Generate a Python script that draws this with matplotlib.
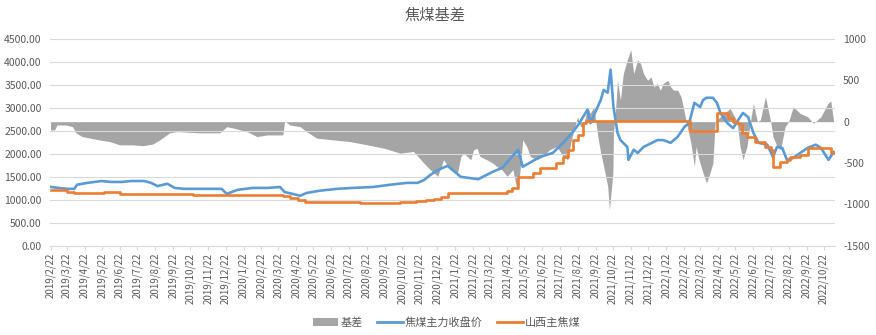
import matplotlib
matplotlib.use("Agg")
import matplotlib.pyplot as plt
import matplotlib.dates as mdates
from matplotlib.patches import Patch
from matplotlib.lines import Line2D
from matplotlib.ticker import FuncFormatter, MultipleLocator
import pandas as pd

plt.rcParams['font.family'] = ['Noto Sans CJK SC', 'DejaVu Sans']

title = "焦煤基差"
series_names = ["基差", "焦煤主力收盘价", "山西主焦煤"]

# 焦煤主力收盘价 (left axis)
futures_dates = ["2019-02-22", "2019-03-07", "2019-03-23", "2019-04-04", "2019-04-09", "2019-04-27",
                 "2019-05-21", "2019-06-07", "2019-06-25", "2019-07-12", "2019-08-03", "2019-08-15",
                 "2019-08-26", "2019-09-12", "2019-09-25", "2019-10-12", "2019-11-03", "2019-11-29",
                 "2019-12-15", "2019-12-24", "2020-01-12", "2020-02-07", "2020-03-03", "2020-03-25",
                 "2020-04-02", "2020-04-16", "2020-04-29", "2020-05-10", "2020-06-02", "2020-07-02",
                 "2020-07-29", "2020-09-02", "2020-10-02", "2020-10-31", "2020-11-18", "2020-11-29",
                 "2020-12-10", "2020-12-23", "2021-01-09", "2021-02-01", "2021-03-03", "2021-03-28",
                 "2021-04-14", "2021-05-11", "2021-05-19", "2021-06-18", "2021-07-10", "2021-07-28",
                 "2021-08-14", "2021-08-23", "2021-09-08", "2021-09-13", "2021-10-01", "2021-10-06",
                 "2021-10-13", "2021-10-18", "2021-10-23", "2021-10-30", "2021-11-04", "2021-11-16",
                 "2021-11-18", "2021-11-27", "2021-12-04", "2021-12-14", "2022-01-07", "2022-01-17",
                 "2022-01-30", "2022-02-11", "2022-02-23", "2022-03-03", "2022-03-12", "2022-03-22",
                 "2022-03-27", "2022-04-02", "2022-04-13", "2022-04-20", "2022-04-26", "2022-05-08",
                 "2022-05-18", "2022-05-27", "2022-06-04", "2022-06-13", "2022-06-22", "2022-07-01",
                 "2022-07-16", "2022-07-26", "2022-08-02", "2022-08-11", "2022-08-19", "2022-08-30",
                 "2022-09-11", "2022-09-24", "2022-10-08", "2022-10-17", "2022-10-30", "2022-11-08"]
futures_vals = [1283, 1260, 1240, 1240, 1330, 1370,
                1410, 1390, 1390, 1410, 1410, 1370,
                1300, 1350, 1260, 1240, 1240, 1240,
                1240, 1130, 1220, 1260, 1260, 1280,
                1170, 1130, 1090, 1150, 1200, 1240,
                1260, 1280, 1330, 1370, 1370, 1430,
                1540, 1650, 1740, 1500, 1450, 1610,
                1700, 2090, 1720, 1935, 2020, 2240,
                2480, 2630, 2960, 2670, 3170, 3390,
                3330, 3830, 3020, 2460, 2300, 2150,
                1870, 2090, 2020, 2150, 2300, 2300,
                2240, 2370, 2590, 2670, 3110, 3020,
                3170, 3220, 3220, 3110, 2890, 2670,
                2560, 2740, 2890, 2800, 2460, 2240,
                2200, 1935, 2150, 2130, 1870, 1910,
                2020, 2130, 2200, 2130, 1870, 2040]

# 山西主焦煤 (left axis, step changes)
spot_dates = ["2019-02-22", "2019-03-23", "2019-04-04", "2019-05-26", "2019-06-22", "2019-10-26",
              "2020-03-30", "2020-04-11", "2020-04-25", "2020-05-07", "2020-08-10", "2020-10-19",
              "2020-11-15", "2020-12-03", "2020-12-17", "2020-12-29", "2021-01-09", "2021-04-14",
              "2021-04-22", "2021-05-01", "2021-05-11", "2021-06-06", "2021-06-18", "2021-07-15",
              "2021-07-28", "2021-08-05", "2021-08-14", "2021-08-22", "2021-08-31", "2021-09-06",
              "2022-03-05", "2022-04-20", "2022-05-10", "2022-05-18", "2022-05-27", "2022-06-02",
              "2022-06-11", "2022-06-25", "2022-07-13", "2022-07-22", "2022-07-26", "2022-08-08",
              "2022-08-19", "2022-08-25", "2022-09-11", "2022-09-24", "2022-11-03", "2022-11-08"]
spot_vals = [1220, 1180, 1160, 1180, 1130, 1100,
             1080, 1040, 990, 960, 940, 950,
             970, 1000, 1030, 1070, 1140, 1160,
             1200, 1250, 1500, 1590, 1700, 1800,
             1940, 2090, 2300, 2410, 2670, 2720,
             2500, 2890, 2780, 2700, 2650, 2460,
             2370, 2260, 2150, 2090, 1720, 1830,
             1870, 1935, 1980, 2130, 2020, 2020]

# 基差 (right axis)
basis_dates = ["2019-02-22", "2019-03-01", "2019-03-05", "2019-03-21", "2019-04-01", "2019-04-07",
               "2019-04-18", "2019-05-17", "2019-06-04", "2019-06-22", "2019-07-14", "2019-08-01",
               "2019-08-18", "2019-08-30", "2019-09-16", "2019-09-29", "2019-11-07", "2019-12-12",
               "2019-12-24", "2020-01-03", "2020-01-28", "2020-02-14", "2020-03-03", "2020-03-30",
               "2020-04-02", "2020-04-11", "2020-04-29", "2020-05-10", "2020-05-28", "2020-06-25",
               "2020-07-24", "2020-08-23", "2020-09-21", "2020-10-19", "2020-11-11", "2020-11-29",
               "2020-12-10", "2020-12-23", "2021-01-02", "2021-01-14", "2021-01-26", "2021-02-01",
               "2021-02-06", "2021-02-18", "2021-02-23", "2021-03-01", "2021-03-06", "2021-03-18",
               "2021-03-28", "2021-04-04", "2021-04-13", "2021-04-22", "2021-05-02", "2021-05-09",
               "2021-05-14", "2021-05-19", "2021-05-26", "2021-06-01", "2021-06-13", "2021-06-23",
               "2021-07-04", "2021-07-17", "2021-07-28", "2021-08-05", "2021-08-10", "2021-08-14",
               "2021-08-22", "2021-08-27", "2021-09-01", "2021-09-08", "2021-09-13", "2021-09-19",
               "2021-09-26", "2021-10-01", "2021-10-06", "2021-10-13", "2021-10-16", "2021-10-22",
               "2021-10-23", "2021-10-27", "2021-10-30", "2021-11-04", "2021-11-09", "2021-11-16",
               "2021-11-22", "2021-11-27", "2021-12-04", "2021-12-09", "2021-12-14", "2021-12-21",
               "2021-12-27", "2022-01-01", "2022-01-07", "2022-01-12", "2022-01-17", "2022-01-25",
               "2022-01-30", "2022-02-04", "2022-02-11", "2022-02-17", "2022-02-23", "2022-03-01",
               "2022-03-06", "2022-03-12", "2022-03-15", "2022-03-20", "2022-03-27", "2022-04-02",
               "2022-04-08", "2022-04-13", "2022-04-17", "2022-04-26", "2022-05-13", "2022-05-25",
               "2022-05-30", "2022-06-04", "2022-06-11", "2022-06-17", "2022-06-22", "2022-06-29",
               "2022-07-04", "2022-07-13", "2022-07-22", "2022-07-26", "2022-08-02", "2022-08-08",
               "2022-08-16", "2022-08-22", "2022-08-30", "2022-09-11", "2022-09-24", "2022-10-04",
               "2022-10-17", "2022-10-29", "2022-11-03", "2022-11-08"]
basis_vals = [-100, -100, -40, -40, -60, -135,
              -180, -220, -240, -280, -280, -290,
              -270, -220, -135, -120, -135, -135,
              -60, -75, -120, -180, -160, -160,
              10, -40, -60, -120, -200, -220,
              -240, -280, -320, -380, -360, -500,
              -580, -660, -460, -580, -620, -420,
              -380, -460, -340, -320, -420, -460,
              -500, -540, -580, -660, -580, -820,
              -620, -220, -300, -420, -460, -420,
              -340, -300, -420, -460, -260, -140,
              60, -60, -60, 180, 100, 180,
              -180, -380, -540, -780, -1065, -620,
              -140, 180, 500, 260, 580, 750,
              870, 580, 750, 700, 580, 500,
              540, 420, 460, 380, 460, 500,
              420, 380, 380, 300, 100, -100,
              -260, -540, -300, -460, -620, -740,
              -620, -500, 0, 60, 160, 0,
              -300, -460, -300, 0, 220, 0,
              20, 300, 0, -180, -300, -340,
              -60, 0, 180, 100, 60, -20,
              60, 220, 250, 0]

fd = pd.to_datetime(futures_dates)
sd = pd.to_datetime(spot_dates)
bd = pd.to_datetime(basis_dates)

GRAY = '#a5a5a5'
BLUE = '#5b9bd5'
ORANGE = '#ed7d31'
TXT = '#595959'

fig = plt.figure(figsize=(8.76, 3.35), dpi=100)
ax = fig.add_axes([0.057, 0.266, 0.896, 0.618])
ax2 = ax.twinx()

ax2.fill_between(bd, 0, basis_vals, color=GRAY, linewidth=0, zorder=1)
ax2.set_ylim(-1500, 1000)
ax2.yaxis.set_major_locator(MultipleLocator(500))

ax.set_zorder(ax2.get_zorder() + 1)
ax.patch.set_visible(False)
ax.plot(fd, futures_vals, color=BLUE, lw=1.9, zorder=3)
ax.plot(sd, spot_vals, color=ORANGE, lw=1.9, drawstyle='steps-post', zorder=4)
ax.set_ylim(0, 4500)
ax.yaxis.set_major_locator(MultipleLocator(500))
ax.yaxis.set_major_formatter(FuncFormatter(lambda v, p: f"{v:.2f}"))
ax2.yaxis.set_major_formatter(FuncFormatter(lambda v, p: f"{int(v)}"))
ax.grid(axis='y', color='#d9d9d9', lw=0.8)
ax.set_axisbelow(True)

ax.set_xlim(pd.Timestamp("2019-02-21"), pd.Timestamp("2022-11-10"))
ax.xaxis.set_major_locator(mdates.MonthLocator(bymonthday=22))
ax.xaxis.set_major_formatter(FuncFormatter(
    lambda v, p: (lambda d: f"{d.year}/{d.month}/{d.day}")(mdates.num2date(v))))

for a in (ax, ax2):
    for s in a.spines.values():
        s.set_visible(False)
ax.spines['bottom'].set_visible(True)
ax.spines['bottom'].set_color('#d9d9d9')

ax.tick_params(axis='x', labelrotation=90, labelsize=7, colors=TXT, length=3, color='#d9d9d9', pad=2)
ax.tick_params(axis='y', labelsize=7.5, colors=TXT, length=0, pad=6)
ax2.tick_params(axis='y', labelsize=7.5, colors=TXT, length=0, pad=6)

fig.text(0.497, 0.955, title, ha='center', va='center', fontsize=11, color=TXT)

handles = [Patch(facecolor=GRAY, edgecolor='none'),
           Line2D([], [], color=BLUE, lw=2),
           Line2D([], [], color=ORANGE, lw=2)]
fig.legend(handles, series_names, loc='center', bbox_to_anchor=(0.51, 0.038), ncol=3,
           frameon=False, fontsize=8, labelcolor=TXT, handlelength=2.3, columnspacing=1.3,
           handletextpad=0.2)

fig.savefig("out.png", dpi=100)
